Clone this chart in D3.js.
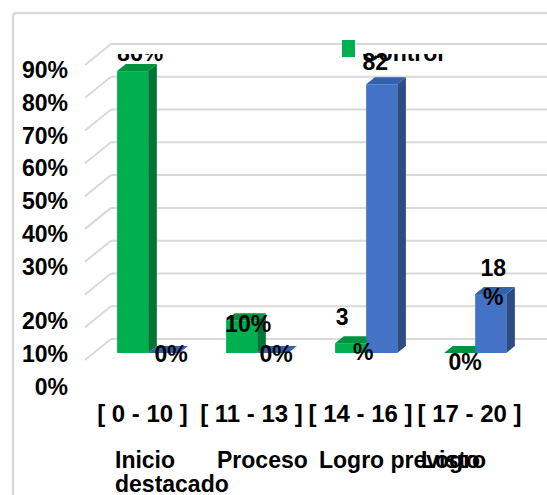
<!DOCTYPE html>
<html>
<head>
<meta charset="utf-8">
<script src="https://cdn.jsdelivr.net/npm/d3@7"></script>
<style>
  body { margin: 0; background: #fff; }
  svg text { font-family: "Liberation Sans", Arial, sans-serif; font-weight: bold; fill: #000; }
</style>
</head>
<body>
<div id="chart"></div>
<script>
  var categories = ['[ 0 - 10 ]', '[ 11 - 13 ]', '[ 14 - 16 ]', '[ 17 - 20 ]'];
  var levelLines = [['Inicio', 'destacado'], ['Proceso'], ['Logro previsto'], ['Logro']];
  var seriesNames = ['Control', 'Experimental'];
  var controlValues = [0.86, 0.10, 0.03, 0];
  var experimentalValues = [0, 0, 0.82, 0.18];
  var yTicks = [0, 0.1, 0.2, 0.3, 0.4, 0.5, 0.6, 0.7, 0.8, 0.9];

  // label nudges per wrapped line, relative to bar top centre (null = line not shown)
  var labelLayout = {
    Control: [[[7.5, -10]], [[6.5, 12]], [[-8.5, -18], [12.5, 17]], [[5.5, 17]]],
    Experimental: [[[7.5, 9]], [[3.5, 9]], [[-6.5, -14], null], [[2.5, -18], [2.5, 11]]]
  };

  var colors = {
    Control: { front: '#00b050', top: '#00923f', side: '#007534' },
    Experimental: { front: '#4472c4', top: '#3461ad', side: '#2d4c84' }
  };

  var width = 547, height = 495;
  var depthX = 26, depthY = 21;
  var fontSize = 23;

  var svg = d3.select('#chart')
    .append('svg')
    .attr('width', width)
    .attr('height', height);

  // chart frame
  svg.append('rect')
    .attr('x', 13).attr('y', 13)
    .attr('width', 580).attr('height', 540)
    .attr('rx', 3)
    .attr('fill', '#fff')
    .attr('stroke', '#d9d9d9')
    .attr('stroke-width', 2.5);

  svg.append('clipPath').attr('id', 'topclip')
    .append('rect').attr('x', 0).attr('y', 54).attr('width', width).attr('height', height);

  var x = d3.scaleBand()
    .domain(categories)
    .range([85, 521])
    .paddingInner(0.43)
    .paddingOuter(0.215);

  var xs = d3.scaleBand()
    .domain(seriesNames)
    .range([0, x.bandwidth()]);

  var y = d3.scaleLinear()
    .domain([0, 0.9])
    .range([360, 65]);

  // back wall gridlines
  svg.selectAll('.grid')
    .data(yTicks)
    .enter().append('line')
    .attr('class', 'grid')
    .attr('x1', x.range()[0] + depthX)
    .attr('x2', width)
    .attr('y1', function(d) { return y(d) - depthY; })
    .attr('y2', function(d) { return y(d) - depthY; })
    .attr('stroke', '#d9d9d9')
    .attr('stroke-width', 2);

  // side wall diagonals
  svg.selectAll('.side-grid')
    .data(yTicks)
    .enter().append('line')
    .attr('class', 'side-grid')
    .attr('x1', x.range()[0])
    .attr('x2', x.range()[0] + depthX)
    .attr('y1', function(d) { return y(d); })
    .attr('y2', function(d) { return y(d) - depthY; })
    .attr('stroke', '#d9d9d9')
    .attr('stroke-width', 2);

  // y labels (the lower three sit further down, as in the original)
  var pct = d3.format('.0%');
  svg.selectAll('.y-label')
    .data(yTicks)
    .enter().append('text')
    .attr('class', 'y-label')
    .attr('x', 68)
    .attr('y', function(d) { return y(d) + (d <= 0.2 ? 35 : 13); })
    .attr('text-anchor', 'end')
    .style('font-size', fontSize + 'px')
    .text(function(d) { return pct(d); });

  // bars
  var bars = [];
  categories.forEach(function(c, i) {
    bars.push({ cat: c, i: i, series: 'Control', value: controlValues[i] });
    bars.push({ cat: c, i: i, series: 'Experimental', value: experimentalValues[i] });
  });

  var f1 = 1 / 3, f2 = 2 / 3;
  var bw = xs.bandwidth();

  function barGeom(d) {
    var x0 = x(d.cat) + xs(d.series);
    return {
      fx: x0 + depthX * f1,
      fy0: y(0) - depthY * f1,
      fy1: y(d.value) - depthY * f1,
      bx: x0 + depthX * f2,
      by0: y(0) - depthY * f2,
      by1: y(d.value) - depthY * f2
    };
  }

  var barG = svg.selectAll('.bar')
    .data(bars)
    .enter().append('g')
    .attr('class', 'bar');

  barG.append('polygon')
    .attr('points', function(d) {
      var g = barGeom(d);
      return [[g.fx + bw, g.fy1], [g.bx + bw, g.by1], [g.bx + bw, g.by0], [g.fx + bw, g.fy0]].join(' ');
    })
    .attr('fill', function(d) { return colors[d.series].side; });

  barG.append('polygon')
    .attr('points', function(d) {
      var g = barGeom(d);
      return [[g.fx, g.fy1], [g.fx + bw, g.fy1], [g.bx + bw, g.by1], [g.bx, g.by1]].join(' ');
    })
    .attr('fill', function(d) { return colors[d.series].top; });

  barG.append('rect')
    .attr('x', function(d) { return barGeom(d).fx; })
    .attr('y', function(d) { return barGeom(d).fy1; })
    .attr('width', bw)
    .attr('height', function(d) { var g = barGeom(d); return g.fy0 - g.fy1; })
    .attr('fill', function(d) { return colors[d.series].front; });

  // legend
  svg.append('rect')
    .attr('x', 342).attr('y', 40)
    .attr('width', 13).attr('height', 17)
    .attr('fill', colors.Control.front);
  svg.append('text')
    .attr('x', 362).attr('y', 61)
    .attr('clip-path', 'url(#topclip)')
    .style('font-size', fontSize + 'px')
    .text(seriesNames[0]);

  // data labels
  var labels = [];
  bars.forEach(function(d) {
    var lay = labelLayout[d.series][d.i];
    var g = barGeom(d);
    var txt = pct(d.value);
    var lines = lay.length > 1 ? [txt.replace('%', ''), '%'] : [txt];
    lines.forEach(function(t, k) {
      if (!lay[k]) return;
      labels.push({
        text: t,
        x: g.fx + bw / 2 + lay[k][0],
        y: g.fy1 + lay[k][1],
        clip: d.value > 0.85
      });
    });
  });
  labels.sort(function(a, b) { return a.y < 80 ? 1 : 0; });

  svg.selectAll('.bar-label')
    .data(labels)
    .enter().append('text')
    .attr('class', 'bar-label')
    .attr('x', function(d) { return d.x; })
    .attr('y', function(d) { return d.y; })
    .attr('text-anchor', 'middle')
    .attr('clip-path', function(d) { return d.clip ? 'url(#topclip)' : null; })
    .style('font-size', fontSize + 'px')
    .text(function(d) { return d.text; });

  // category labels
  svg.selectAll('.x-label')
    .data(categories)
    .enter().append('text')
    .attr('class', 'x-label')
    .attr('x', function(d) { return x(d) + x.bandwidth() / 2 + depthX / 2 - 10; })
    .attr('y', 422)
    .attr('text-anchor', 'middle')
    .style('font-size', '24px')
    .text(function(d) { return d; });

  var levelX = d3.scalePoint().domain(categories).range([115, 421]);
  var lvl = svg.selectAll('.level-label')
    .data(categories)
    .enter().append('text')
    .attr('class', 'level-label')
    .style('font-size', fontSize + 'px');
  lvl.selectAll('tspan')
    .data(function(d, i) { return levelLines[i].map(function(t) { return { t: t, c: d }; }); })
    .enter().append('tspan')
    .attr('x', function(d) { return levelX(d.c); })
    .attr('y', function(d, k) { return 468 + k * 24; })
    .text(function(d) { return d.t; });
</script>
</body>
</html>
